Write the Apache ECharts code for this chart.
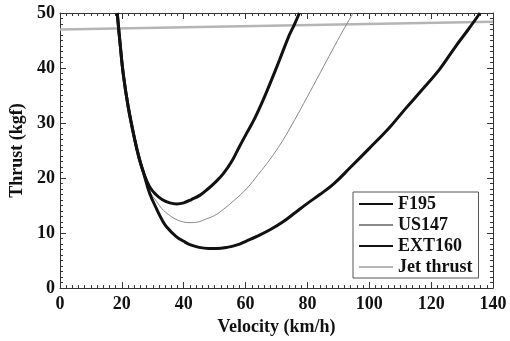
<!DOCTYPE html>
<html><head><meta charset="utf-8">
<script src="https://cdn.jsdelivr.net/npm/echarts@6/dist/echarts.min.js"></script>
<style>html,body{margin:0;padding:0;background:#fff;overflow:hidden}#c{width:510px;height:341px}</style>
</head><body><div id="c"></div>
<script>
const seriesNames = ["F195", "US147", "EXT160", "Jet thrust"];
const xTicks = [0, 20, 40, 60, 80, 100, 120, 140];
const yTicks = [0, 10, 20, 30, 40, 50];
const sharedBranch = [[18.5,50],[19.4,44.6],[20.5,38.7],[22.1,32.8],[24.2,26.9],[25.6,23.6],[27,21]];
const f195 = [[29,18.4],[31,17],[33,16.1],[35.5,15.5],[37.7,15.3],[40,15.5],[42.5,16.1],[45.3,16.9],[48,18.1],[50.5,19.4],[52.8,20.8],[55.5,23],[58,25.7],[60.5,28.3],[63,30.9],[65.7,34.2],[68,37.3],[71,41.5],[74,45.8],[75.7,47.8],[77.4,50]];
const us147 = [[29,17.6],[31.3,15.7],[33,14.4],[35,13.4],[37.5,12.5],[40,12],[42,11.9],[44.5,12],[47,12.5],[50,13.2],[52.8,14.3],[56,15.8],[60.4,18.1],[64,20.6],[67.9,23.4],[72,26.8],[76,30.7],[79.8,34.6],[84,39],[88,43.2],[91.5,46.8],[94.8,50]];
const ext160 = [[29,17.2],[31.3,14.3],[33,12.4],[34.5,11.1],[37.5,9.4],[40,8.5],[42,7.9],[45,7.4],[48,7.2],[50.7,7.2],[54,7.4],[57,7.8],[60.4,8.6],[64,9.5],[67.9,10.6],[72,12],[76,13.7],[80,15.4],[84,17],[88.4,18.9],[94,22],[100,25.4],[106.7,29.3],[112,32.8],[117,36],[122.9,39.9],[128,44],[132,47],[135.8,50]];
const jet = [[0,47.0],[140,48.4]];

const font = '"Liberation Serif","Times New Roman",serif';
const axisLine = {show:true, onZero:false, lineStyle:{color:'#333', width:1}};
const lbl = {fontFamily:font, fontWeight:'bold', fontSize:18, color:'#111'};
const nameStyle = {fontFamily:font, fontWeight:'bold', fontSize:18, color:'#111'};
function xax(pos, show){
  return {type:'value', position:pos, min:0, max:140, interval:20,
    axisLine:axisLine, axisTick:{show:true, inside:true, length:6, lineStyle:{color:'#333'}},
    minorTick:{show:true, splitNumber:10, length:3, lineStyle:{color:'#333'}},
    splitLine:{show:false}, minorSplitLine:{show:false},
    axisLabel: show ? Object.assign({margin:7, formatter:v=>xTicks.includes(v)?String(v):''}, lbl) : {show:false},
    name: show ? 'Velocity (km/h)' : '', nameLocation:'middle', nameGap:24, nameTextStyle:nameStyle};
}
function yax(pos, show){
  return {type:'value', position:pos, min:0, max:50, interval:10,
    axisLine:axisLine, axisTick:{show:true, inside:true, length:6, lineStyle:{color:'#333'}},
    minorTick:{show:true, splitNumber:10, length:3, lineStyle:{color:'#333'}},
    splitLine:{show:false}, minorSplitLine:{show:false},
    axisLabel: show ? Object.assign({margin:5, formatter:v=>yTicks.includes(v)?String(v):''}, lbl) : {show:false},
    name: show ? 'Thrust (kgf)' : '', nameLocation:'middle', nameGap:27, nameTextStyle:nameStyle};
}
const chart = echarts.init(document.getElementById('c'), null, {renderer:'canvas', width:510, height:341});
chart.setOption({
  animation:false,
  backgroundColor:'#fff',
  grid:{left:60, top:13, width:433, height:283},
  xAxis:[xax('bottom', true), xax('top', false)],
  yAxis:[yax('left', true), yax('right', false)],
  legend:{
    orient:'vertical', left:353, top:192, itemWidth:34, itemHeight:14, itemGap:3,
    padding:[3,6,2,5],
    borderColor:'#555', borderWidth:1, backgroundColor:'#fff',
    itemStyle:{opacity:0},
    textStyle:{fontFamily:font, fontWeight:'bold', fontSize:18, color:'#111'},
    data:seriesNames
  },
  series:[
    {name:seriesNames[0], type:'line', data:sharedBranch.concat(f195), smooth:0.4, symbol:'none', z:4,
      lineStyle:{color:'#111', width:3}, itemStyle:{color:'#111'}},
    {name:seriesNames[1], type:'line', data:sharedBranch.concat(us147), smooth:0.4, symbol:'none', z:3,
      lineStyle:{color:'#888', width:1}, itemStyle:{color:'#888'}},
    {name:seriesNames[2], type:'line', data:sharedBranch.concat(ext160), smooth:0.4, symbol:'none', z:4,
      lineStyle:{color:'#111', width:3}, itemStyle:{color:'#111'}},
    {name:seriesNames[3], type:'line', data:jet, symbol:'none', z:2,
      lineStyle:{color:'#b5b5b5', width:2.5}, itemStyle:{color:'#b5b5b5'}}
  ]
});
</script></body></html>
